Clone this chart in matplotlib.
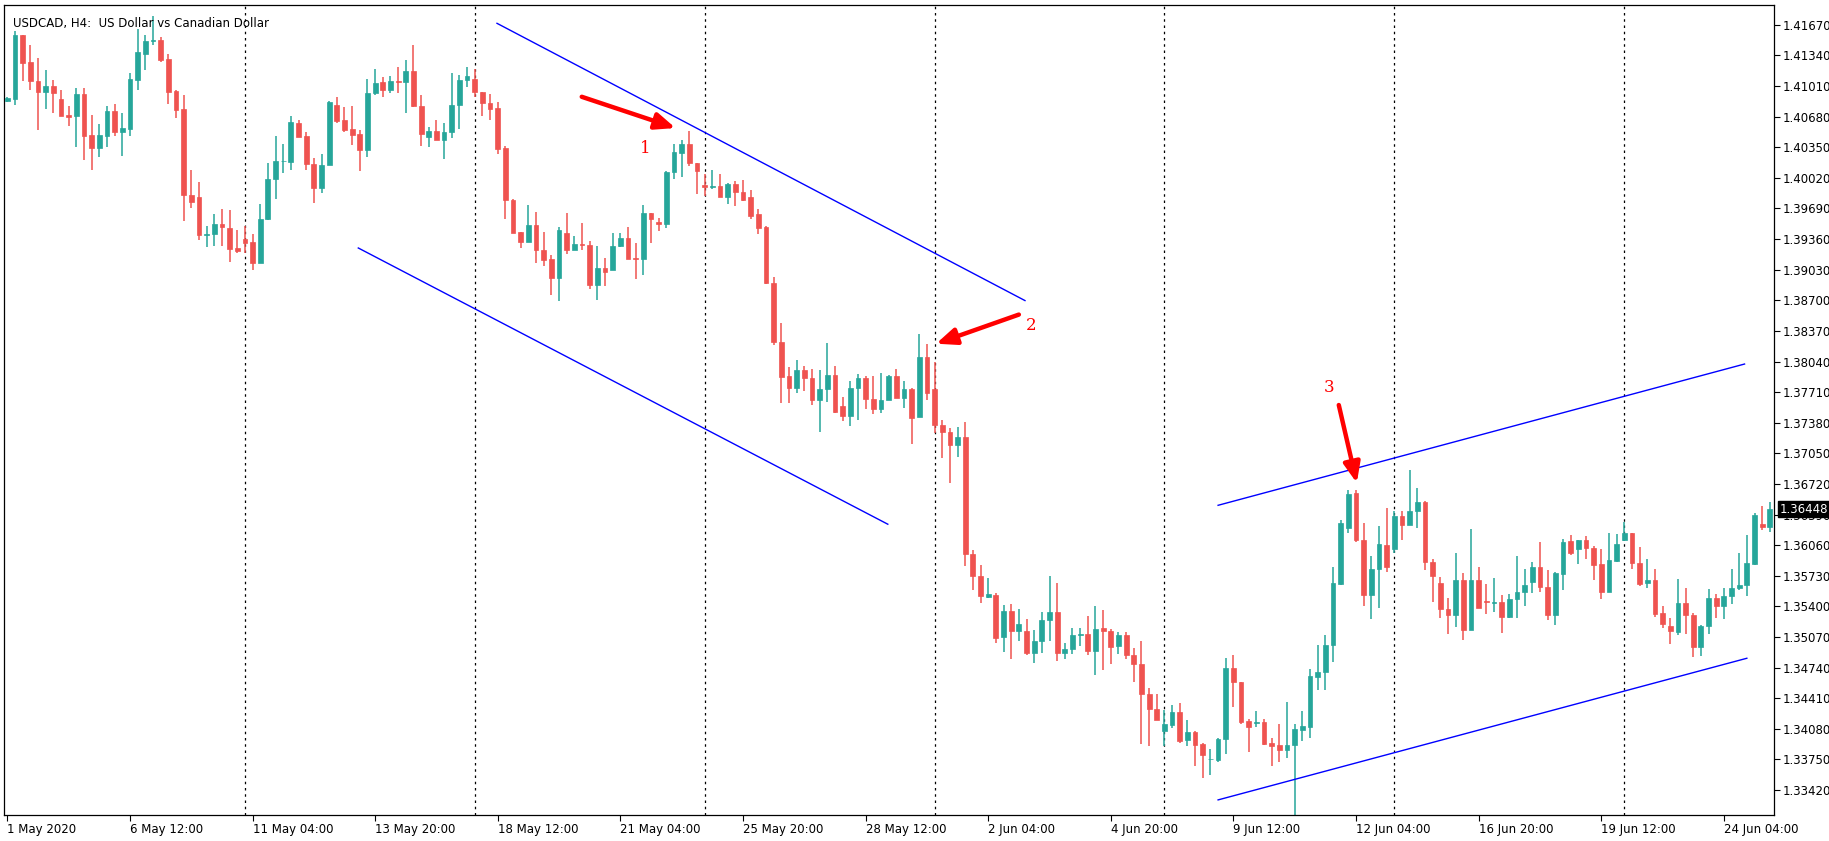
import matplotlib
matplotlib.use("Agg")
import matplotlib.pyplot as plt
import numpy as np

opens = [1.4085,
 1.4087,1.4156,1.4127,1.4106,1.4095,1.4101,1.4087,1.4070,1.4069,1.4092,
 1.4048,1.4034,1.4047,1.4074,1.4051,1.4055,1.4108,1.4136,1.4150,1.4151,
 1.4130,1.4096,1.4076,1.3984,1.3981,1.3940,1.3941,1.3952,1.3948,1.3926,
 1.3936,1.3933,1.3910,1.3958,1.4001,1.4020,1.4019,1.4061,1.4047,1.4017,
 1.3991,1.4016,1.4081,1.4064,1.4055,1.4049,1.4032,1.4093,1.4105,1.4097,
 1.4106,1.4105,1.4117,1.4080,1.4046,1.4052,1.4043,1.4051,1.4081,1.4107,
 1.4109,1.4095,1.4083,1.4077,1.4034,1.3978,1.3944,1.3933,1.3951,1.3924,
 1.3914,1.3894,1.3943,1.3924,1.3931,1.3930,1.3886,1.3905,1.3903,1.3928,
 1.3937,1.3916,1.3915,1.3964,1.3954,1.3952,1.4008,1.4029,1.4039,1.4018,
 1.3994,1.3992,1.3993,1.3981,1.3995,1.3987,1.3981,1.3963,1.3949,1.3889,
 1.3825,1.3788,1.3775,1.3795,1.3786,1.3763,1.3774,1.3789,1.3756,1.3745,
 1.3775,1.3786,1.3764,1.3753,1.3763,1.3788,1.3765,1.3774,1.3744,1.3809,
 1.3774,1.3736,1.3728,1.3714,1.3723,1.3597,1.3573,1.3550,1.3552,1.3507,
 1.3535,1.3514,1.3514,1.3490,1.3503,1.3525,1.3534,1.3490,1.3494,1.3509,
 1.3510,1.3492,1.3517,1.3513,1.3497,1.3509,1.3488,1.3478,1.3446,1.3429,
 1.3406,1.3412,1.3426,1.3396,1.3405,1.3392,1.3375,1.3374,1.3397,1.3474,
 1.3458,1.3416,1.3414,1.3415,1.3393,1.3391,1.3385,1.3391,1.3407,1.3410,
 1.3464,1.3469,1.3498,1.3564,1.3624,1.3662,1.3612,1.3552,1.3580,1.3606,
 1.3602,1.3638,1.3628,1.3643,1.3653,1.3588,1.3565,1.3537,1.3531,1.3569,
 1.3515,1.3569,1.3546,1.3544,1.3545,1.3529,1.3548,1.3556,1.3566,1.3582,
 1.3561,1.3531,1.3575,1.3610,1.3602,1.3612,1.3603,1.3586,1.3555,1.3589,
 1.3612,1.3619,1.3587,1.3565,1.3569,1.3533,1.3519,1.3512,1.3544,1.3531,
 1.3496,1.3519,1.3549,1.3540,1.3551,1.3560,1.3563,1.3586,1.3629,1.3626]

closes = [1.4088,
 1.4156,1.4126,1.4106,1.4095,1.4101,1.4093,1.4069,1.4068,1.4092,1.4047,
 1.4034,1.4048,1.4074,1.4051,1.4056,1.4109,1.4138,1.4150,1.4151,1.4129,
 1.4095,1.4075,1.3983,1.3976,1.3940,1.3941,1.3952,1.3949,1.3925,1.3923,
 1.3932,1.3910,1.3958,1.4001,1.4020,1.40205,1.4062,1.4046,1.4017,1.3991,
 1.4016,1.4084,1.4063,1.4054,1.4048,1.4032,1.4093,1.4104,1.4097,1.4106,
 1.4105,1.4117,1.4080,1.4049,1.4052,1.4043,1.4051,1.4081,1.4107,1.4112,
 1.4095,1.4083,1.4076,1.4033,1.3978,1.3943,1.3933,1.3951,1.3924,1.3913,
 1.3894,1.3946,1.3924,1.3931,1.3930,1.3886,1.3905,1.3901,1.3928,1.3937,
 1.3915,1.3915,1.3964,1.3958,1.3952,1.4008,1.4030,1.4039,1.4018,1.4009,
 1.3992,1.3993,1.3981,1.3995,1.3987,1.3978,1.3961,1.3948,1.3889,1.3825,
 1.3787,1.3775,1.3795,1.3786,1.3763,1.3774,1.3789,1.3750,1.3745,1.3775,
 1.3786,1.3764,1.3753,1.3763,1.3788,1.3765,1.3774,1.3743,1.3809,1.3770,
 1.3736,1.3728,1.3714,1.3723,1.3597,1.3573,1.3551,1.3553,1.3506,1.3535,
 1.3514,1.3521,1.3490,1.3503,1.3525,1.3534,1.3490,1.3494,1.3509,1.3510,
 1.3492,1.3516,1.3513,1.3496,1.3509,1.3488,1.3478,1.3446,1.3429,1.3418,
 1.3413,1.3426,1.3395,1.3405,1.3391,1.3380,1.3376,1.3397,1.3474,1.3458,
 1.3415,1.3410,1.3415,1.3392,1.3390,1.3385,1.3391,1.3408,1.3411,1.3465,
 1.3469,1.3498,1.3565,1.3630,1.3661,1.3612,1.3552,1.3580,1.3607,1.3582,
 1.3638,1.3628,1.3643,1.3653,1.3588,1.3573,1.3537,1.3531,1.3569,1.3515,
 1.3568,1.3538,1.3545,1.3545,1.3529,1.3548,1.3556,1.3563,1.3582,1.3561,
 1.3531,1.3576,1.3609,1.3598,1.3612,1.3603,1.3585,1.3556,1.3590,1.3607,
 1.3619,1.3587,1.3564,1.3569,1.3532,1.3521,1.3513,1.3544,1.3531,1.3496,
 1.3519,1.3549,1.3540,1.3551,1.3560,1.3563,1.3587,1.3639,1.3626,1.36448]

highs = [1.4089,
 1.4160,1.4156,1.4145,1.4131,1.4118,1.4108,1.4097,1.4079,1.4099,1.4099,
 1.4070,1.4060,1.4080,1.4082,1.4072,1.4115,1.4162,1.4156,1.4177,1.4154,
 1.4136,1.4097,1.4091,1.4010,1.3997,1.3950,1.3963,1.3968,1.3967,1.3946,
 1.3950,1.3942,1.3974,1.4018,1.4047,1.4039,1.4069,1.4064,1.4051,1.4023,
 1.4028,1.4085,1.4089,1.4078,1.4080,1.4054,1.4109,1.4119,1.4111,1.4112,
 1.4121,1.4129,1.4145,1.4091,1.4057,1.4064,1.4061,1.4115,1.4113,1.4122,
 1.4119,1.4095,1.4092,1.4084,1.4036,1.3979,1.3944,1.3973,1.3965,1.3944,
 1.3919,1.3949,1.3964,1.3939,1.3953,1.3934,1.3928,1.3916,1.3943,1.3943,
 1.3949,1.3932,1.3973,1.3964,1.3959,1.4009,1.4038,1.4043,1.4053,1.4018,
 1.4006,1.4011,1.4006,1.3996,1.3999,1.4000,1.3989,1.3968,1.3950,1.3895,
 1.3845,1.3798,1.3806,1.3799,1.3796,1.3795,1.3824,1.3799,1.3766,1.3783,
 1.3791,1.3788,1.3788,1.3792,1.3790,1.3796,1.3783,1.3775,1.3834,1.3823,
 1.3803,1.3741,1.3732,1.3733,1.3739,1.3601,1.3585,1.3571,1.3554,1.3541,
 1.3543,1.3537,1.3526,1.3515,1.3534,1.3573,1.3565,1.3501,1.3517,1.3517,
 1.3530,1.3540,1.3536,1.3516,1.3512,1.3512,1.3495,1.3503,1.3452,1.3446,
 1.3428,1.3434,1.3436,1.3417,1.3406,1.3393,1.3386,1.3398,1.3484,1.3488,
 1.3459,1.3419,1.3427,1.3419,1.3398,1.3413,1.3437,1.3413,1.3427,1.3473,
 1.3498,1.3509,1.3583,1.3633,1.3666,1.3666,1.3630,1.3594,1.3627,1.3646,
 1.3643,1.3643,1.3687,1.3668,1.3654,1.3591,1.3572,1.3549,1.3598,1.3576,
 1.3623,1.3582,1.3564,1.3571,1.3552,1.3553,1.3594,1.3580,1.3588,1.3609,
 1.3579,1.3577,1.3613,1.3617,1.3612,1.3616,1.3605,1.3602,1.3619,1.3618,
 1.3631,1.3619,1.3604,1.3591,1.3580,1.3540,1.3528,1.3570,1.3560,1.3533,
 1.3520,1.3559,1.3553,1.3560,1.3580,1.3598,1.3617,1.3641,1.3648,1.3653]

lows = [1.4084,
 1.4081,1.4106,1.4097,1.4054,1.4076,1.4072,1.4069,1.4058,1.4035,1.4021,
 1.4011,1.4025,1.4035,1.4047,1.4026,1.4047,1.4097,1.4118,1.4145,1.4127,
 1.4082,1.4067,1.3956,1.3970,1.3935,1.3927,1.3929,1.3928,1.3911,1.3921,
 1.3921,1.3903,1.3910,1.3957,1.3979,1.4007,1.4011,1.4046,1.4010,1.3975,
 1.3986,1.4016,1.4061,1.4051,1.4037,1.4009,1.4024,1.4091,1.4089,1.4093,
 1.4093,1.4072,1.4078,1.4036,1.4035,1.4043,1.4022,1.4045,1.4055,1.4100,
 1.4089,1.4069,1.4064,1.4028,1.3958,1.3943,1.3926,1.3933,1.3910,1.3907,
 1.3876,1.3869,1.3920,1.3924,1.3924,1.3882,1.3870,1.3885,1.3903,1.3927,
 1.3915,1.3893,1.3897,1.3932,1.3945,1.3948,1.4001,1.4003,1.4015,1.3985,
 1.3982,1.3990,1.3981,1.3974,1.3972,1.3977,1.3958,1.3942,1.3888,1.3822,
 1.3759,1.3759,1.3770,1.3772,1.3757,1.3728,1.3760,1.3749,1.3740,1.3735,
 1.3741,1.3753,1.3747,1.3749,1.3763,1.3765,1.3754,1.3715,1.3744,1.3762,
 1.3727,1.3700,1.3673,1.3701,1.3584,1.3558,1.3544,1.3549,1.3501,1.3491,
 1.3483,1.3503,1.3488,1.3479,1.3490,1.3503,1.3481,1.3483,1.3489,1.3497,
 1.3488,1.3466,1.3471,1.3478,1.3489,1.3483,1.3459,1.3392,1.3390,1.3418,
 1.3390,1.3409,1.3393,1.3390,1.3368,1.3355,1.3358,1.3372,1.3381,1.3432,
 1.3413,1.3383,1.3410,1.3391,1.3368,1.3372,1.3377,1.3313,1.3395,1.3398,
 1.3450,1.3450,1.3480,1.3563,1.3619,1.3609,1.3540,1.3526,1.3538,1.3577,
 1.3598,1.3612,1.3628,1.3624,1.3579,1.3545,1.3527,1.3510,1.3518,1.3504,
 1.3515,1.3538,1.3532,1.3534,1.3511,1.3527,1.3527,1.3540,1.3554,1.3556,
 1.3525,1.3520,1.3558,1.3595,1.3586,1.3591,1.3569,1.3548,1.3555,1.3588,
 1.3610,1.3580,1.3562,1.3560,1.3529,1.3517,1.3500,1.3509,1.3510,1.3485,
 1.3487,1.3510,1.3527,1.3526,1.3543,1.3558,1.3551,1.3585,1.3622,1.3620]

tick_labels = ["1 May 2020", "6 May 12:00", "11 May 04:00", "13 May 20:00", "18 May 12:00",
               "21 May 04:00", "25 May 20:00", "28 May 12:00", "2 Jun 04:00", "4 Jun 20:00",
               "9 Jun 12:00", "12 Jun 04:00", "16 Jun 20:00", "19 Jun 12:00", "24 Jun 04:00"]
tick_pos = [0, 16, 32, 48, 64, 80, 96, 112, 128, 144, 160, 176, 192, 208, 224]
week_seps = [31, 61, 91, 121, 151, 181, 211]
price_ticks = [1.41670, 1.41340, 1.41010, 1.40680, 1.40350, 1.40020, 1.39690, 1.39360, 1.39030,
               1.38700, 1.38370, 1.38040, 1.37710, 1.37380, 1.37050, 1.36720, 1.36390, 1.36060,
               1.35730, 1.35400, 1.35070, 1.34740, 1.34410, 1.34080, 1.33750, 1.33420]
last_price = 1.36448

channels = [((63.9, 1.41686), (132.8, 1.38697)),
            ((45.8, 1.39264), (114.9, 1.36286)),
            ((158.0, 1.36490), (226.7, 1.38013)),
            ((158.0, 1.33314), (227.0, 1.34841))]
arrows = [((74.96, 1.40894), (87.2, 1.40557), "1", (83.3, 1.40341)),
          ((132.0, 1.38546), (121.2, 1.38232), "2", (133.6, 1.38423)),
          ((173.75, 1.37571), (176.1, 1.36731), "3", (172.5, 1.37755))]

GREEN = "#26a69a"
RED = "#ef5350"

fig = plt.figure(figsize=(18.29, 8.41), dpi=100)
ax = fig.add_axes([0.0022, 0.031, 0.9678, 0.963])

o = np.array(opens); c = np.array(closes); h = np.array(highs); l = np.array(lows)
x = np.arange(len(o))
cols = np.where(c >= o, GREEN, RED)
ax.vlines(x, l, h, colors=cols, linewidth=1.1, zorder=2)
bottoms = np.minimum(o, c)
heights = np.maximum(np.abs(c - o), 0.00005)
ax.bar(x, heights, bottom=bottoms, width=0.62, color=cols, edgecolor=cols, linewidth=0.5, zorder=3)

for s in week_seps:
    ax.axvline(s, color="black", linestyle=(0, (2, 3)), linewidth=0.9, zorder=1)

for (x0, y0), (x1, y1) in channels:
    ax.plot([x0, x1], [y0, y1], color="#0000ff", linewidth=1.0, zorder=4)

for (sx, sy), (ex, ey), lab, (lx, ly) in arrows:
    ax.annotate("", xy=(ex, ey), xytext=(sx, sy),
                arrowprops=dict(arrowstyle="-|>,head_length=1.2,head_width=0.5", color="#ff0000",
                                lw=3.2, shrinkA=0, shrinkB=0), zorder=5)
    ax.text(lx, ly, lab, color="#ff0000", fontsize=12, family="DejaVu Serif",
            ha="center", va="center", zorder=5)

ax.set_xlim(-0.43, 230.56)
ax.set_ylim(1.33152, 1.41883)
ax.yaxis.tick_right()
ax.set_yticks(price_ticks)
ax.set_yticklabels([f"{p:.5f}" for p in price_ticks], fontsize=8.5)
ax.set_xticks(tick_pos)
ax.set_xticklabels(tick_labels, fontsize=8.5, ha="left")
ax.tick_params(axis="both", direction="out", length=4, width=0.8, pad=2)
for sp in ax.spines.values():
    sp.set_linewidth(0.9)

ax.text(0.005, 0.985, "USDCAD, H4:  US Dollar vs Canadian Dollar", transform=ax.transAxes,
        fontsize=8.5, va="top", ha="left")
ax.text(1.003, last_price, f"{last_price:.5f}", transform=ax.get_yaxis_transform(),
        fontsize=8.5, color="white", va="center", ha="left",
        bbox=dict(boxstyle="square,pad=0.15", fc="black", ec="black"), zorder=6, clip_on=False)

fig.savefig("out.png", dpi=100)
